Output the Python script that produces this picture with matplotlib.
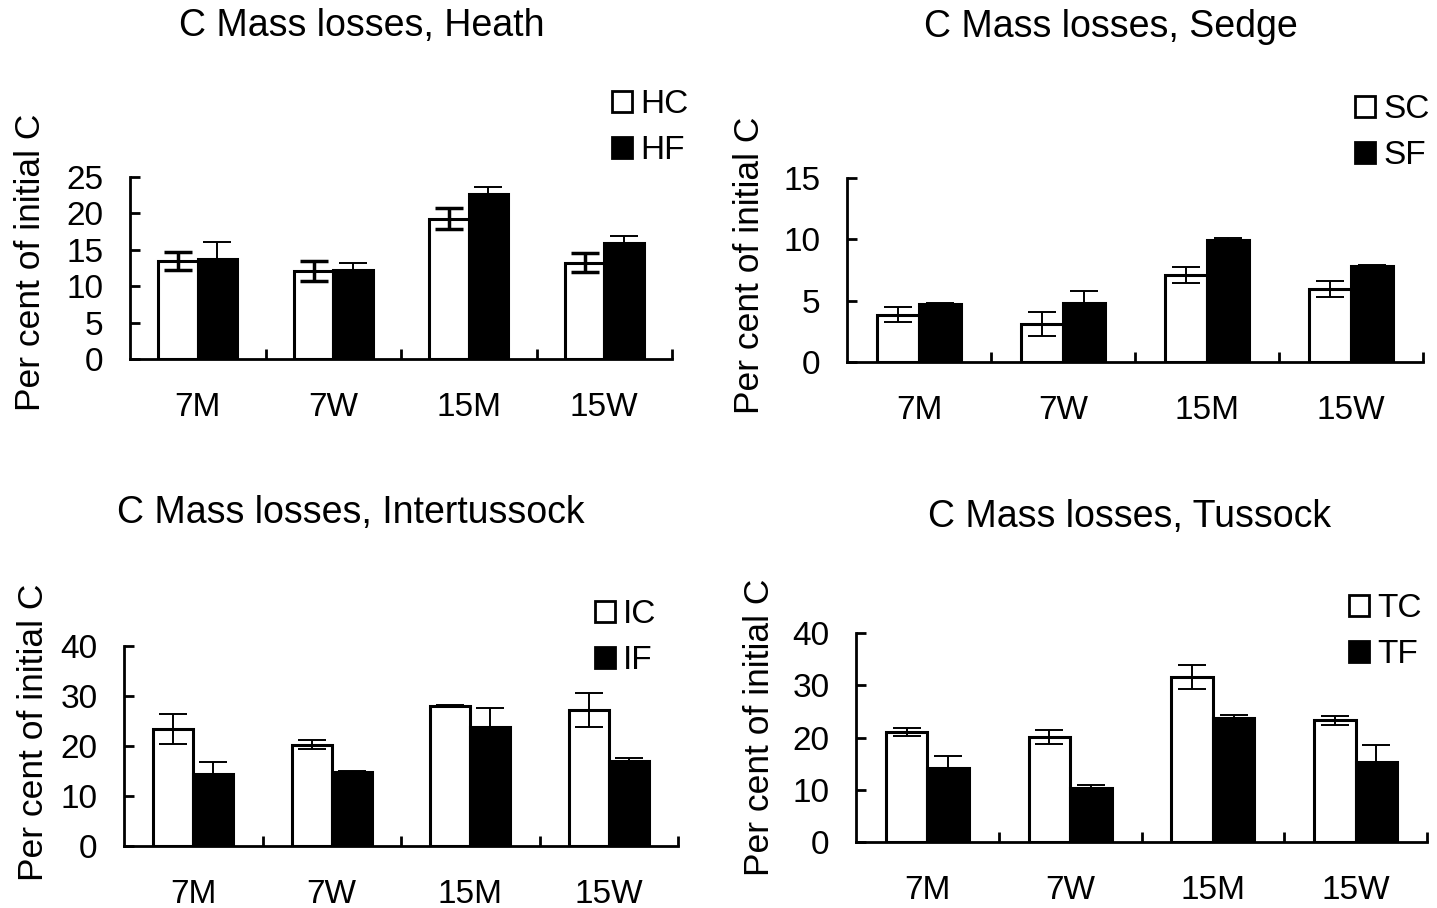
import numpy as np
import matplotlib.pyplot as plt
from matplotlib.patches import Patch

plt.rcParams['font.family'] = ['Liberation Sans', 'DejaVu Sans']

categories = ["7M", "7W", "15M", "15W"]

# Heath
heath_c = [13.45, 12.1, 19.25, 13.2]
heath_c_err = [1.25, 1.35, 1.45, 1.3]
heath_f = [13.7, 12.2, 22.6, 15.9]
heath_f_err = [2.4, 1.0, 1.0, 1.0]

# Sedge
sedge_c = [3.85, 3.1, 7.1, 5.97]
sedge_c_err = [0.6, 0.98, 0.65, 0.66]
sedge_f = [4.7, 4.83, 9.92, 7.8]
sedge_f_err = [0.1, 0.95, 0.15, 0.08]

# Intertussock
inter_c = [23.5, 20.3, 28.0, 27.3]
inter_c_err = [3.0, 0.85, 0.2, 3.4]
inter_f = [14.4, 14.8, 23.9, 17.05]
inter_f_err = [2.4, 0.2, 3.7, 0.5]

# Tussock
tuss_c = [21.0, 20.15, 31.55, 23.3]
tuss_c_err = [0.77, 1.3, 2.33, 0.86]
tuss_f = [14.1, 10.37, 23.7, 15.36]
tuss_f_err = [2.35, 0.57, 0.7, 3.14]

W, H = 1437, 908
fig = plt.figure(figsize=(W / 100, H / 100), dpi=100)


def px_axes(left, right, top, bottom):
    return fig.add_axes([left / W, 1 - bottom / H, (right - left) / W, (bottom - top) / H])


def panel(rect, title, title_xy, ylab_xy, c_vals, c_err, f_vals, f_err, names,
          ymax, step, legend_xy, c_elw=1.4):
    ax = px_axes(*rect)
    x = np.arange(len(categories))
    bw = 0.29
    ax.bar(x - bw / 2, c_vals, bw, color="white", edgecolor="black", linewidth=2.2, zorder=2)
    ax.bar(x + bw / 2, f_vals, bw, color="black", edgecolor="black", linewidth=2.2, zorder=2)
    ax.errorbar(x - bw / 2, c_vals, yerr=c_err, fmt="none", ecolor="black",
                elinewidth=c_elw, capsize=10, capthick=c_elw, zorder=3)
    ax.errorbar(x + bw / 2, f_vals, yerr=f_err, fmt="none", ecolor="black",
                elinewidth=1.4, capsize=10, capthick=1.4, zorder=3)
    ax.set_xlim(-0.5, 3.5)
    ax.set_ylim(0, ymax)
    ax.set_yticks(np.arange(0, ymax + 0.1, step))
    ax.set_xticks(x)
    ax.set_xticklabels(categories)
    ax.set_xticks(x + 0.5, minor=True)
    ax.tick_params(axis="x", which="major", length=0, pad=24, labelsize=24)
    ax.tick_params(axis="x", which="minor", direction="in", length=7, width=2)
    ax.tick_params(axis="y", direction="in", length=7, width=2, pad=19, labelsize=24)
    for s in ["top", "right"]:
        ax.spines[s].set_visible(False)
    for s in ["left", "bottom"]:
        ax.spines[s].set_linewidth(2)
    ax.set_ylabel("Per cent of initial C", fontsize=25.5)
    ax.yaxis.set_label_coords(ylab_xy[0] / W, 1 - ylab_xy[1] / H, transform=fig.transFigure)
    fig.text(title_xy[0] / W, 1 - title_xy[1] / H, title, fontsize=27, ha="center", va="center")
    handles = [Patch(facecolor="white", edgecolor="black", linewidth=2),
               Patch(facecolor="black", edgecolor="black", linewidth=2)]
    ax.legend(handles, names, loc="upper left", frameon=False, fontsize=24,
              handlelength=0.6, handleheight=0.6, handletextpad=0.25, labelspacing=0.45,
              borderaxespad=0, borderpad=0,
              bbox_to_anchor=(legend_xy[0] / W, 1 - legend_xy[1] / H),
              bbox_transform=fig.transFigure)
    return ax


panel((130, 672, 177, 359), "C Mass losses, Heath", (362, 26), (47, 262),
      heath_c, heath_c_err, heath_f, heath_f_err, ["HC", "HF"], 25, 5, (612, 89), c_elw=2.5)
panel((847, 1423, 178, 362), "C Mass losses, Sedge", (1111, 27), (766, 265),
      sedge_c, sedge_c_err, sedge_f, sedge_f_err, ["SC", "SF"], 15, 5, (1355, 94))
panel((124, 678, 646, 846), "C Mass losses, Intertussock", (351, 513), (50, 732),
      inter_c, inter_c_err, inter_f, inter_f_err, ["IC", "IF"], 40, 10, (595, 599))
panel((856, 1427, 633, 842), "C Mass losses, Tussock", (1130, 517), (776, 727),
      tuss_c, tuss_c_err, tuss_f, tuss_f_err, ["TC", "TF"], 40, 10, (1349, 593))

fig.savefig("out.png", dpi=100)
